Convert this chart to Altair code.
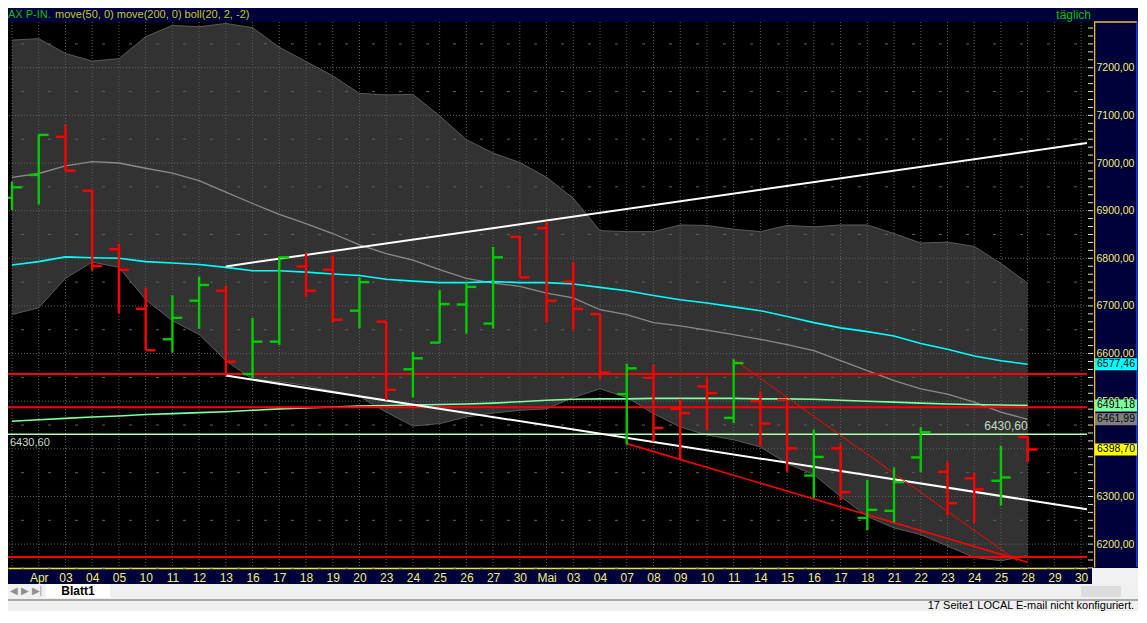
import altair as alt
import pandas as pd

# ---------------- data ----------------
dates = ["30", "Apr", "03", "04", "05", "10", "11", "12", "13", "16", "17", "18", "19", "20",
         "23", "24", "25", "26", "27", "30", "Mai", "03", "04", "07", "08", "09", "10", "11",
         "14", "15", "16", "17", "18", "21", "22", "23", "24", "25", "28", "29", "30"]

opens  = [6927, 6975, 7055, 6942, 6819, 6694, 6630, 6711, 6732, 6557, 6625, 6783, 6776, 6690,
          6667, 6567, 6623, 6703, 6663, 6845, 6863, 6751, 6683, 6515, 6549, 6484, 6531, 6465,
          6500, 6503, 6344, 6401, 6255, 6270, 6382, 6352, 6338, 6333, 6425]
highs  = [6961, 7060, 7081, 6944, 6831, 6738, 6722, 6762, 6743, 6675, 6804, 6813, 6806, 6760,
          6668, 6604, 6733, 6749, 6824, 6847, 6877, 6792, 6683, 6579, 6577, 6505, 6550, 6588,
          6521, 6503, 6441, 6411, 6335, 6361, 6446, 6373, 6350, 6406, 6427]
lows   = [6901, 6913, 6983, 6774, 6685, 6607, 6602, 6652, 6554, 6549, 6618, 6719, 6665, 6653,
          6502, 6508, 6622, 6642, 6653, 6760, 6665, 6649, 6547, 6409, 6415, 6377, 6440, 6454,
          6406, 6352, 6297, 6292, 6229, 6246, 6351, 6260, 6244, 6281, 6372]
closes = [6949, 7059, 6984, 6784, 6776, 6607, 6675, 6744, 6583, 6625, 6802, 6732, 6671, 6750,
          6524, 6590, 6704, 6740, 6802, 6760, 6711, 6694, 6560, 6569, 6444, 6475, 6517, 6580,
          6453, 6401, 6383, 6309, 6272, 6330, 6435, 6286, 6315, 6340, 6398.70]

sma20 = [6970, 6978, 6994, 7003, 7000, 6989, 6979, 6963, 6939, 6915, 6892, 6873, 6852, 6828,
         6810, 6796, 6776, 6758, 6748, 6741, 6727, 6717, 6692, 6682, 6665, 6658, 6649, 6640,
         6630, 6619, 6606, 6585, 6564, 6543, 6526, 6515, 6498, 6477, 6461.99]
upper = [7258, 7261, 7230, 7214, 7219, 7265, 7289, 7286, 7293, 7284, 7243, 7213, 7183, 7146,
         7143, 7144, 7099, 7049, 7021, 7001, 6970, 6926, 6858, 6856, 6856, 6870, 6869, 6861,
         6856, 6869, 6866, 6870, 6870, 6852, 6832, 6834, 6825, 6789, 6748]
lower = [6682, 6696, 6758, 6792, 6781, 6713, 6669, 6640, 6585, 6546, 6541, 6533, 6521, 6510,
         6477, 6448, 6453, 6467, 6475, 6481, 6484, 6508, 6526, 6508, 6474, 6446, 6429, 6419,
         6404, 6369, 6346, 6300, 6258, 6234, 6220, 6196, 6172, 6165, 6176]
ma50 = [6786, 6793, 6803, 6801, 6800, 6793, 6790, 6787, 6781, 6774, 6774, 6771, 6767, 6764,
        6756, 6752, 6749, 6749, 6751, 6749, 6749, 6746, 6739, 6732, 6722, 6713, 6706, 6698,
        6690, 6678, 6665, 6654, 6646, 6637, 6621, 6609, 6595, 6585, 6577.46]
ma200 = [6458, 6461, 6464, 6467, 6469, 6472, 6474, 6476, 6478, 6481, 6484, 6486, 6488, 6490,
         6491, 6492, 6493, 6494, 6496, 6499, 6502, 6504, 6505, 6505, 6506, 6506, 6506, 6506,
         6505, 6505, 6504, 6502, 6500, 6498, 6496, 6494, 6493, 6492, 6491.18]

red_levels = [6557, 6487.5, 6173]
green_level = [6430.60]

# trend segments: start index, start value, end index, end value
seg_x1 = [8, 8, 23, 27]
seg_y1 = [6783, 6554, 6411, 6588]
seg_x2 = [40.22, 40.22, 38, 37.6]
seg_y2 = [7042, 6273, 6162, 6165]
seg_col = ["#ffffff", "#ffffff", "#ff0000", "#ff0000"]
seg_w = [2, 2, 1.6, 1]

axis_levels = list(range(6200, 7300, 100))
grid_half = list(range(6150, 7300, 100))
minor_ticks = [6150 + k * 50 / 3 for k in range(0, 69)]

tag_values = [6577.46, 6491.18, 6461.99, 6398.70]
tag_texts = ["6577,46", "6491,18", "6461,99", "6398,70"]
tag_colors = ["#00ffff", "#80ffa0", "#808080", "#ffff00"]

# ---------------- layout ----------------
W, H = 1079, 545
PT, PR, PB = 14, 51, 44
FONT = "Liberation Sans"
NAVY = "#00003a"

xs = alt.Scale(domain=[-0.15, 40.22], nice=False, zero=False)
ys = alt.Scale(domain=[6152, 7296], nice=False, zero=False)

label_arr = "[" + ",".join("'%s'" % d for d in dates) + "]"

AX = alt.Axis(
    values=list(range(1, len(dates))), labelExpr=label_arr + "[datum.value]",
    ticks=False, grid=False, title=None, domainColor="#e8e040", domainWidth=1.5,
    labelColor="#f0f070", labelFont=FONT, labelFontSize=12, labelPadding=4,
    labelFlush=False, labelOverlap=False, offset=1)
AY = alt.Axis(
    orient="right", values=axis_levels,
    labelExpr="replace(format(datum.value, '.2f'), '.', ',')",
    ticks=False, grid=False, title=None, offset=7, domainColor="#e8c040",
    domainWidth=1.5, labelColor="#f0f070", labelFont=FONT, labelFontSize=10.5,
    labelPadding=2, labelFlush=False, labelOverlap=False)

n = len(opens)
bars = pd.DataFrame({"i": list(range(n)), "o": opens, "h": highs, "l": lows, "c": closes})
bars["dir"] = ["up" if c >= o else "down" for o, c in zip(opens, closes)]
ser = pd.DataFrame({"i": list(range(n)), "sma": sma20, "up": upper, "lo": lower,
                    "m50": ma50, "m200": ma200})
days = pd.DataFrame({"i": list(range(len(dates)))})
segs = pd.DataFrame({"x1": seg_x1, "y1": seg_y1, "x2": seg_x2, "y2": seg_y2,
                     "col": seg_col, "w": seg_w})
tags = pd.DataFrame({"v": tag_values, "t": tag_texts, "bg": tag_colors})
one = pd.DataFrame({"k": [0]})


def X(f):
    return alt.X(f, scale=xs, axis=AX)


def Y(f):
    return alt.Y(f, scale=ys, axis=AY)


band = alt.Chart(ser).mark_area(color="#323232", opacity=1).encode(
    x=X("i:Q"), y=Y("lo:Q"), y2="up:Q")

grid_v = alt.Chart(days).mark_rule(color="#606060", strokeDash=[1, 2], strokeWidth=1).encode(
    x=X("i:Q"))
grid_h1 = alt.Chart(pd.DataFrame({"v": axis_levels})).mark_rule(
    color="#606060", strokeDash=[1, 2], strokeWidth=1).encode(y=Y("v:Q"))
grid_h2 = alt.Chart(pd.DataFrame({"v": grid_half})).mark_rule(
    color="#606060", strokeDash=[3, 24], strokeDashOffset=-10, strokeWidth=1).encode(y=Y("v:Q"))

edge_u = alt.Chart(ser).mark_line(color="#5a5a5a", strokeWidth=1).encode(x=X("i:Q"), y=Y("up:Q"))
edge_l = alt.Chart(ser).mark_line(color="#5a5a5a", strokeWidth=1).encode(x=X("i:Q"), y=Y("lo:Q"))
mid = alt.Chart(ser).mark_line(color="#8a8a8a", strokeWidth=1.3).encode(x=X("i:Q"), y=Y("sma:Q"))
l200 = alt.Chart(ser).mark_line(color="#80ffa0", strokeWidth=1.6).encode(x=X("i:Q"), y=Y("m200:Q"))
l50 = alt.Chart(ser).mark_line(color="#00ffff", strokeWidth=1.6).encode(x=X("i:Q"), y=Y("m50:Q"))

hred = alt.Chart(pd.DataFrame({"v": red_levels})).mark_rule(color="#ff0000", strokeWidth=2).encode(
    y=Y("v:Q"))
hgreen = alt.Chart(pd.DataFrame({"v": green_level})).mark_rule(color="#b0ffb0", strokeWidth=1.6).encode(
    y=Y("v:Q"))

trend = alt.Chart(segs).mark_rule().encode(
    x=X("x1:Q"), y=Y("y1:Q"), x2="x2:Q", y2="y2:Q",
    color=alt.Color("col:N", scale=None), strokeWidth=alt.StrokeWidth("w:Q", scale=None))

bcol = alt.Color("dir:N", scale=alt.Scale(domain=["up", "down"], range=["#00cc00", "#ff0000"]),
                 legend=None)
b_v = alt.Chart(bars).mark_rule(strokeWidth=2.4).encode(x=X("i:Q"), y=Y("l:Q"), y2="h:Q", color=bcol)
b_o = alt.Chart(bars).transform_calculate(xl="datum.i - 0.36").mark_rule(strokeWidth=2.4).encode(
    x=X("xl:Q"), x2="i:Q", y=Y("o:Q"), color=bcol)
b_c = alt.Chart(bars).transform_calculate(xr="datum.i + 0.37").mark_rule(strokeWidth=2.4).encode(
    x=X("i:Q"), x2="xr:Q", y=Y("c:Q"), color=bcol)

lvl_txt_l = alt.Chart(pd.DataFrame({"v": green_level})).mark_text(
    text="6430,60", align="left", baseline="middle", dy=9, font=FONT, fontSize=11,
    color="#c4dcc4").encode(x=alt.value(2), y=Y("v:Q"))
lvl_txt_r = alt.Chart(pd.DataFrame({"v": green_level, "i": [38]})).mark_text(
    text="6430,60", align="right", baseline="middle", dy=-8, font=FONT, fontSize=12,
    color="#c4dcc4").encode(x=X("i:Q"), y=Y("v:Q"))


def rect(x1, x2, y1, y2, color):
    return alt.Chart(one).mark_rect(color=color).encode(
        x=alt.value(x1), x2=alt.value(x2), y=alt.value(y1), y2=alt.value(y2))


def text(s, x, y, color, size=11, align="left", weight="normal"):
    return alt.Chart(one).mark_text(text=s, align=align, baseline="middle", font=FONT,
                                    fontSize=size, color=color, fontWeight=weight).encode(
        x=alt.value(x), y=alt.value(y))


strip = rect(W, W + 7, 0, H, "#000000")
mticks = alt.Chart(pd.DataFrame({"v": minor_ticks})).mark_rule(color="#e0e0d0", strokeWidth=1).encode(
    x=alt.value(W + 1), x2=alt.value(W + 6), y=Y("v:Q"))
top_line = alt.Chart(one).mark_rule(color="#e8c040", strokeWidth=1.5).encode(
    x=alt.value(W + 7), x2=alt.value(W + 50), y=alt.value(0))
blue_line = alt.Chart(one).mark_rule(color="#2040ff", strokeWidth=1.5).encode(
    x=alt.value(W + 50), y=alt.value(0), y2=alt.value(H))

tag_box = alt.Chart(tags).mark_point(shape="M-3.5,-1H3.5V1H-3.5Z", size=144, filled=True,
                                      opacity=1, strokeWidth=0).encode(
    x=alt.value(W + 29), y=Y("v:Q"), color=alt.Color("bg:N", scale=None))
tag_txt = alt.Chart(tags).mark_text(align="center", baseline="middle", font=FONT, fontSize=10.5,
                                     color="#000000").encode(
    x=alt.value(W + 29), y=Y("v:Q"), text="t:N")

# title bar
title1 = text("AX P-IN.", 0, -7, "#00c000", 11)
title2 = text("move(50, 0) move(200, 0) boll(20, 2, -2)", 47, -7, "#c8c820", 11)
title3 = text("täglich", W + 4, -7, "#00c000", 12, align="right")

# bottom UI
corner = rect(W + 5, W + PR, H + 1, H + 17, "#f2f2f2")
ui_bg = rect(0, W + PR, H + 17, H + PB, "#f0f0f0")
ui_sep = rect(0, W + PR, H + 32, H + 34, "#a8a8a8")
tab = rect(38, 102, H + 17, H + 31, "#ffffff")
tab_txt = text("Blatt1", 70, H + 24, "#000000", 12, align="center", weight="bold")
nav_txt = text("◀ ▶ ▶|", 2, H + 24, "#909090", 10)
scroll = rect(W - 6, W + 34, H + 19, H + 30, "#dcdcdc")
status = text("17   Seite1   LOCAL   E-mail nicht konfiguriert.", W + 47, H + 39, "#000000", 11,
              align="right")

chart = alt.layer(
    band, grid_v, grid_h1, grid_h2, edge_u, edge_l, mid, l200, l50, hred, hgreen, trend,
    b_v, b_o, b_c, lvl_txt_l, lvl_txt_r, strip, mticks, top_line, blue_line, tag_box, tag_txt,
    title1, title2, title3, corner, ui_bg, ui_sep, tab, tab_txt, nav_txt, scroll, status,
).properties(
    width=W, height=H,
    padding={"left": 0, "top": PT, "right": PR, "bottom": PB},
    autosize=alt.AutoSizeParams(type="none"),
    background=NAVY,
).configure_view(fill="#000000", stroke=None)

chart.save("out.html", embed_options={"renderer": "svg", "actions": False})
